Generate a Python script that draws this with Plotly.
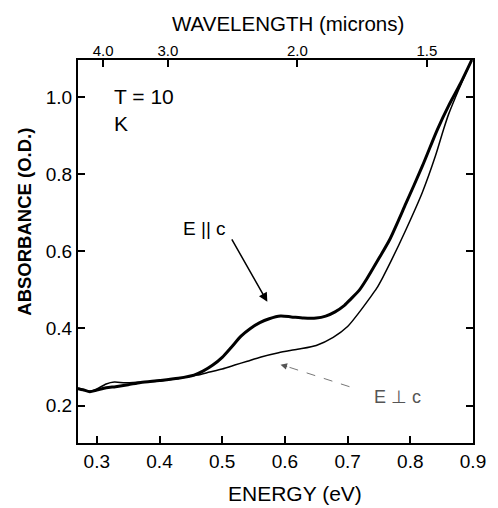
import plotly.graph_objects as go

# Absorbance spectra at T = 10 K for two polarisations
energy_par = [0.270, 0.278, 0.289, 0.300, 0.315, 0.330, 0.350, 0.370, 0.400, 0.430,
              0.455, 0.470, 0.485, 0.500, 0.515, 0.530, 0.545, 0.560, 0.575, 0.593,
              0.610, 0.630, 0.650, 0.665, 0.680, 0.695, 0.705, 0.719, 0.730, 0.750,
              0.767, 0.793, 0.819, 0.843, 0.861, 0.880, 0.898]
absorb_par = [0.244, 0.241, 0.236, 0.240, 0.246, 0.249, 0.254, 0.260, 0.265, 0.271,
              0.279, 0.290, 0.305, 0.325, 0.352, 0.380, 0.400, 0.415, 0.425, 0.432,
              0.430, 0.427, 0.427, 0.432, 0.443, 0.460, 0.476, 0.500, 0.527, 0.582,
              0.630, 0.724, 0.820, 0.915, 0.977, 1.035, 1.096]

energy_perp = [0.270, 0.280, 0.289, 0.300, 0.315, 0.328, 0.345, 0.370, 0.400, 0.430,
               0.460, 0.480, 0.500, 0.520, 0.540, 0.562, 0.590, 0.620, 0.650, 0.677,
               0.700, 0.720, 0.735, 0.746, 0.756, 0.770, 0.793, 0.819, 0.840, 0.853,
               0.861, 0.880, 0.898]
absorb_perp = [0.246, 0.240, 0.237, 0.243, 0.256, 0.261, 0.259, 0.261, 0.264, 0.270,
               0.279, 0.287, 0.295, 0.305, 0.315, 0.326, 0.337, 0.346, 0.356, 0.377,
               0.405, 0.445, 0.478, 0.503, 0.532, 0.577, 0.656, 0.752, 0.847, 0.916,
               0.955, 1.030, 1.096]

energy_ticks = [0.3, 0.4, 0.5, 0.6, 0.7, 0.8, 0.9]
absorb_ticks = [0.2, 0.4, 0.6, 0.8, 1.0]
wavelength_ticks = [4.0, 3.0, 2.0, 1.5]  # microns

HC = 1.2398  # eV * micron
wl_pos = [HC / w for w in wavelength_ticks]

FONT = "Liberation Sans, Arial, sans-serif"
x_range = [0.27, 0.90]
y_range = [0.103, 1.096]

# plot area in pixels, used to place the free-standing titles
L, R, T, B = 78, 20, 60, 65
W, H = 498, 508
PW, PH = W - L - R, H - T - B


def px_to_paper(px, py):
    return (px - L) / PW, (H - B - py) / PH


fig = go.Figure()
fig.add_trace(go.Scatter(x=energy_perp, y=absorb_perp, mode="lines",
                         line=dict(color="black", width=1.5, shape="spline", smoothing=0.7),
                         showlegend=False, hoverinfo="skip"))
fig.add_trace(go.Scatter(x=energy_par, y=absorb_par, mode="lines",
                         line=dict(color="black", width=3, shape="spline", smoothing=0.7),
                         showlegend=False, hoverinfo="skip"))
# transparent copy on the wavelength axis so that axis gets drawn
fig.add_trace(go.Scatter(x=energy_par, y=absorb_par, mode="lines", xaxis="x2",
                         line=dict(color="rgba(0,0,0,0)", width=0),
                         showlegend=False, hoverinfo="skip"))

axis_common = dict(showgrid=False, zeroline=False, showline=True, linecolor="black",
                   linewidth=2, ticks="inside", ticklen=7, tickwidth=2, tickcolor="black",
                   layer="above traces")

fig.update_layout(
    width=W, height=H,
    margin=dict(l=L, r=R, t=T, b=B),
    paper_bgcolor="white", plot_bgcolor="white",
    font=dict(family=FONT, color="black"),
    xaxis=dict(range=x_range, tickvals=energy_ticks,
               ticktext=[f"{v:.1f}" for v in energy_ticks],
               tickfont=dict(size=19), mirror=False, **axis_common),
    xaxis2=dict(range=x_range, overlaying="x", side="top", anchor="y",
                tickvals=wl_pos, ticktext=[f"{w:.1f}" for w in wavelength_ticks],
                tickfont=dict(size=15), ticklabelstandoff=-4, **axis_common),
    yaxis=dict(range=y_range, tickvals=absorb_ticks,
               ticktext=[f"{v:.1f}" for v in absorb_ticks],
               tickfont=dict(size=19), mirror="ticks", **axis_common),
)

# axis titles
for text, (px, py), size, angle in [
    ("<b>ABSORBANCE (O.D.)</b>", (23, 222), 18.5, -90),
    ("ENERGY (eV)", (298, 493), 21, 0),
    ("WAVELENGTH (microns)", (291, 23), 20.5, 0),
]:
    ax_, ay_ = px_to_paper(px, py)
    fig.add_annotation(x=ax_, y=ay_, xref="paper", yref="paper", text=text,
                       showarrow=False, textangle=angle, xanchor="center",
                       yanchor="middle", font=dict(size=size))

fig.add_annotation(x=0.085, y=1.0, xref="paper", yref="y", text="T = 10<br>K",
                   showarrow=False, xanchor="left", yanchor="middle", align="left",
                   font=dict(size=21), yshift=-13)

fig.add_annotation(x=0.572, y=0.469, ax=0.514, ay=0.635, xref="x", yref="y",
                   axref="x", ayref="y", text="", showarrow=True,
                   arrowhead=2, arrowsize=1.2, arrowwidth=1.5, arrowcolor="black")
fig.add_annotation(x=0.471, y=0.660, xref="x", yref="y", text="E || c",
                   showarrow=False, font=dict(size=19))

# dashed grey pointer to the perpendicular curve
fig.add_shape(type="line", x0=0.703, y0=0.249, x1=0.600, y1=0.303, xref="x", yref="y",
              line=dict(color="#777", width=1, dash="dash"))
fig.add_annotation(x=0.593, y=0.306, ax=0.606, ay=0.300, xref="x", yref="y",
                   axref="x", ayref="y", text="", showarrow=True,
                   arrowhead=2, arrowsize=1.3, arrowwidth=1, arrowcolor="#555")
fig.add_annotation(x=0.780, y=0.222, xref="x", yref="y", text="E ⊥ c",
                   showarrow=False, font=dict(size=18, color="#555"))

fig.write_html("out.html")
